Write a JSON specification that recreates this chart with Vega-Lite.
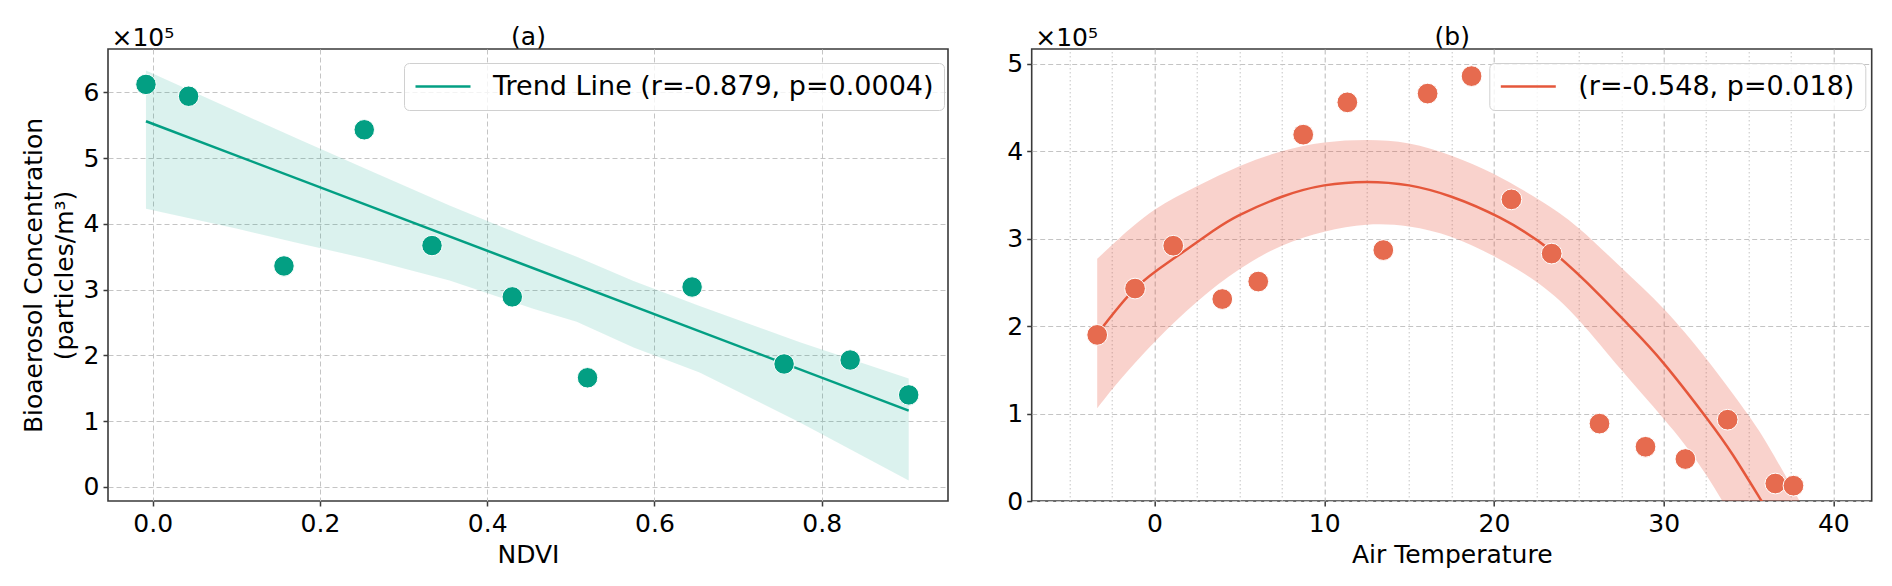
{
  "$schema": "https://vega.github.io/schema/vega-lite/v6.json",
  "usermeta": {"embedOptions": {"actions": false}},
  "background": "white",
  "padding": {"left": 20, "top": 23, "right": 20, "bottom": 10},
  "autosize": {"type": "pad"},
  "config": {
    "font": "DejaVu Sans",
    "view": {"stroke": "#3a3a3a", "strokeWidth": 1.6},
    "axis": {
      "labelFont": "DejaVu Sans", "labelFontSize": 25, "labelColor": "#000000",
      "titleFont": "DejaVu Sans", "titleFontSize": 25, "titleFontWeight": "normal", "titleColor": "#000000",
      "domain": false, "tickColor": "#3a3a3a", "tickSize": 5, "tickWidth": 1.5,
      "labelPadding": 5, "gridColor": "#c4c4c4", "gridDash": [5, 3], "gridWidth": 1, "gridOpacity": 1
    },
    "legend": {
      "labelFont": "DejaVu Sans", "labelFontSize": 27, "labelColor": "#000000", "labelLimit": 800,
      "symbolType": "stroke", "symbolSize": 3025, "symbolStrokeWidth": 2.5,
      "padding": 10, "labelOffset": 21, "clipHeight": 27,
      "fillColor": "rgba(255,255,255,0.8)", "strokeColor": "#d0d0d0", "cornerRadius": 5
    }
  },
  "datasets": {
    "a_pts": [
      {"ndvi": -0.008, "conc": 6.12},
      {"ndvi": 0.043, "conc": 5.94},
      {"ndvi": 0.157, "conc": 3.36},
      {"ndvi": 0.253, "conc": 5.43},
      {"ndvi": 0.334, "conc": 3.67},
      {"ndvi": 0.430, "conc": 2.89},
      {"ndvi": 0.520, "conc": 1.66},
      {"ndvi": 0.645, "conc": 3.04},
      {"ndvi": 0.755, "conc": 1.87},
      {"ndvi": 0.834, "conc": 1.93},
      {"ndvi": 0.904, "conc": 1.40}
    ],
    "a_line": [
      {"ndvi": -0.008, "conc": 5.56},
      {"ndvi": 0.904, "conc": 1.16}
    ],
    "a_band": [
      {"ndvi": -0.008, "lo": 4.23, "hi": 6.33},
      {"ndvi": 0.1, "lo": 3.93, "hi": 5.71},
      {"ndvi": 0.176, "lo": 3.70, "hi": 5.28},
      {"ndvi": 0.256, "lo": 3.47, "hi": 4.83},
      {"ndvi": 0.355, "lo": 3.14, "hi": 4.28},
      {"ndvi": 0.455, "lo": 2.71, "hi": 3.76},
      {"ndvi": 0.507, "lo": 2.51, "hi": 3.50},
      {"ndvi": 0.575, "lo": 2.12, "hi": 3.13},
      {"ndvi": 0.654, "lo": 1.74, "hi": 2.75},
      {"ndvi": 0.774, "lo": 0.98, "hi": 2.20},
      {"ndvi": 0.904, "lo": 0.10, "hi": 1.65}
    ],
    "b_pts": [
      {"temp": -3.38, "conc": 1.90},
      {"temp": -1.15, "conc": 2.43},
      {"temp": 1.1, "conc": 2.92},
      {"temp": 3.99, "conc": 2.31},
      {"temp": 6.11, "conc": 2.51},
      {"temp": 8.76, "conc": 4.19},
      {"temp": 11.36, "conc": 4.56},
      {"temp": 13.48, "conc": 2.87},
      {"temp": 16.09, "conc": 4.66},
      {"temp": 18.68, "conc": 4.86},
      {"temp": 21.03, "conc": 3.45},
      {"temp": 23.4, "conc": 2.83},
      {"temp": 26.22, "conc": 0.885},
      {"temp": 28.93, "conc": 0.62},
      {"temp": 31.28, "conc": 0.48},
      {"temp": 33.77, "conc": 0.93},
      {"temp": 36.58, "conc": 0.20},
      {"temp": 37.65, "conc": 0.175}
    ],
    "b_line": [
      {"temp": -3.38, "conc": 1.91},
      {"temp": -1.15, "conc": 2.43},
      {"temp": 1.1, "conc": 2.77},
      {"temp": 3.46, "conc": 3.09},
      {"temp": 5, "conc": 3.27},
      {"temp": 7.5, "conc": 3.48},
      {"temp": 10, "conc": 3.61},
      {"temp": 12.5, "conc": 3.65},
      {"temp": 15, "conc": 3.61},
      {"temp": 17.5, "conc": 3.48},
      {"temp": 20.35, "conc": 3.24},
      {"temp": 23.4, "conc": 2.86},
      {"temp": 26.25, "conc": 2.35},
      {"temp": 28, "conc": 2.00},
      {"temp": 29.98, "conc": 1.58},
      {"temp": 32.53, "conc": 0.95},
      {"temp": 34.1, "conc": 0.52},
      {"temp": 35.77, "conc": 0.0},
      {"temp": 36.2, "conc": -0.13}
    ],
    "b_band": [
      {"temp": -3.38, "lo": 1.06, "hi": 2.77},
      {"temp": -2.1, "lo": 1.37, "hi": 3.00},
      {"temp": 0, "lo": 1.82, "hi": 3.33},
      {"temp": 2.5, "lo": 2.28, "hi": 3.60},
      {"temp": 5, "lo": 2.65, "hi": 3.83},
      {"temp": 7.5, "lo": 2.92, "hi": 4.00},
      {"temp": 10, "lo": 3.08, "hi": 4.10},
      {"temp": 12.5, "lo": 3.16, "hi": 4.13},
      {"temp": 15, "lo": 3.14, "hi": 4.09},
      {"temp": 17.5, "lo": 3.02, "hi": 3.95},
      {"temp": 20, "lo": 2.80, "hi": 3.74},
      {"temp": 22.7, "lo": 2.48, "hi": 3.44},
      {"temp": 25, "lo": 2.07, "hi": 3.12},
      {"temp": 27.5, "lo": 1.50, "hi": 2.67},
      {"temp": 30, "lo": 0.94, "hi": 2.20},
      {"temp": 32.5, "lo": 0.30, "hi": 1.63},
      {"temp": 35, "lo": -0.52, "hi": 0.98},
      {"temp": 36.5, "lo": -1.05, "hi": 0.52},
      {"temp": 38.3, "lo": -1.75, "hi": -0.10}
    ]
  },
  "bounds": "flush",
  "spacing": 83.7,
  "resolve": {"scale": {"color": "independent"}, "legend": {"color": "independent"}},
  "hconcat": [
    {
      "width": 840,
      "height": 452,
      "layer": [
        {
          "data": {"name": "a_band"},
          "mark": {"type": "area", "color": "#00A087", "opacity": 0.14},
          "encoding": {
            "x": {"field": "ndvi", "type": "quantitative",
              "scale": {"domain": [-0.0534, 0.951], "nice": false, "zero": false},
              "axis": {"orient": "top", "title": "(a)", "labels": false, "ticks": false, "grid": false, "titleY": -5, "titleBaseline": "alphabetic"}},
            "y": {"field": "lo", "type": "quantitative",
              "scale": {"domain": [-0.213, 6.658], "nice": false, "zero": false},
              "axis": {"orient": "right", "title": "×10⁵", "labels": false, "ticks": false, "grid": false, "titleAngle": 0, "titleX": -837, "titleY": -4, "titleAlign": "left", "titleBaseline": "alphabetic"}},
            "y2": {"field": "hi"}
          }
        },
        {
          "data": {"name": "a_line"},
          "mark": {"type": "line", "strokeWidth": 2.5},
          "encoding": {
            "x": {"field": "ndvi", "type": "quantitative", "axis": null},
            "y": {"field": "conc", "type": "quantitative", "axis": null},
            "color": {"datum": "Trend Line (r=-0.879, p=0.0004)", "type": "nominal",
              "scale": {"range": ["#039F83"]},
              "legend": {"orient": "none", "legendX": 296, "legendY": 14, "title": null}}
          }
        },
        {
          "data": {"name": "a_pts"},
          "mark": {"type": "circle", "size": 420, "fill": "#039F83", "opacity": 1, "stroke": "white", "strokeWidth": 1},
          "encoding": {
            "x": {"field": "ndvi", "type": "quantitative",
              "axis": {"orient": "bottom", "title": "NDVI", "values": [0, 0.2, 0.4, 0.6, 0.8], "format": ".1f", "grid": true, "titlePadding": 6}},
            "y": {"field": "conc", "type": "quantitative",
              "axis": {"orient": "left", "title": ["Bioaerosol Concentration", "(particles/m³)"], "values": [0, 1, 2, 3, 4, 5, 6], "format": "d", "grid": true, "titlePadding": 6, "titleLineHeight": 31, "labelPadding": 4}}
          }
        }
      ],
      "resolve": {"axis": {"x": "independent", "y": "independent"}}
    },
    {
      "width": 840,
      "height": 452,
      "layer": [
        {
          "data": {"name": "b_band"},
          "mark": {"type": "area", "color": "#E64B35", "opacity": 0.25, "interpolate": "natural", "clip": true},
          "encoding": {
            "x": {"field": "temp", "type": "quantitative",
              "scale": {"domain": [-7.24, 42.26], "nice": false, "zero": false},
              "axis": {"orient": "top", "title": "(b)", "labels": false, "ticks": false, "grid": true,
                "values": [-5, -2.5, 2.5, 5, 7.5, 12.5, 15, 17.5, 22.5, 25, 27.5, 32.5, 35, 37.5],
                "gridDash": [1.5, 2.5], "gridColor": "#c4c4c4", "titleY": -5, "titleBaseline": "alphabetic"}},
            "y": {"field": "lo", "type": "quantitative",
              "scale": {"domain": [0, 5.17], "nice": false, "zero": false},
              "axis": {"orient": "right", "title": "×10⁵", "labels": false, "ticks": false, "grid": false, "titleAngle": 0, "titleX": -837, "titleY": -4, "titleAlign": "left", "titleBaseline": "alphabetic"}},
            "y2": {"field": "hi"}
          }
        },
        {
          "data": {"name": "b_line"},
          "mark": {"type": "line", "strokeWidth": 2.5, "interpolate": "natural", "clip": true},
          "encoding": {
            "x": {"field": "temp", "type": "quantitative", "axis": null},
            "y": {"field": "conc", "type": "quantitative", "axis": null},
            "color": {"datum": "(r=-0.548, p=0.018)", "type": "nominal",
              "scale": {"range": ["#E5573B"]},
              "legend": {"orient": "none", "legendX": 457.6, "legendY": 14, "title": null}}
          }
        },
        {
          "data": {"name": "b_pts"},
          "mark": {"type": "circle", "size": 430, "fill": "#E66B4F", "opacity": 1, "stroke": "white", "strokeWidth": 1},
          "encoding": {
            "x": {"field": "temp", "type": "quantitative",
              "axis": {"orient": "bottom", "title": "Air Temperature", "values": [0, 10, 20, 30, 40], "format": "d", "grid": true, "gridColor": "#b8b8b8", "titlePadding": 6}},
            "y": {"field": "conc", "type": "quantitative",
              "axis": {"orient": "left", "title": null, "values": [0, 1, 2, 3, 4, 5], "format": "d", "grid": true, "labelPadding": 4}}
          }
        }
      ],
      "resolve": {"axis": {"x": "independent", "y": "independent"}}
    }
  ]
}
